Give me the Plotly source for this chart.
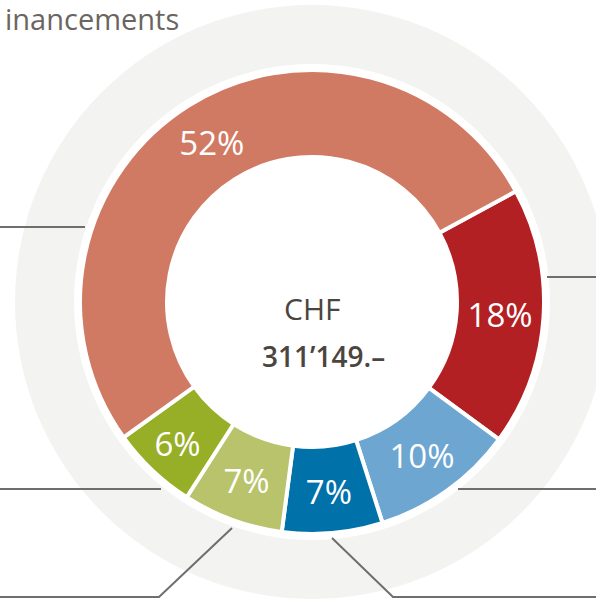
import plotly.graph_objects as go

# ---- data ----
categories = ["Catégorie A", "Catégorie B", "Catégorie C", "Catégorie D", "Catégorie E", "Catégorie F"]
shares = [18, 10, 7, 7, 6, 52]
colors = ["#B22024", "#6CA6D1", "#0071A9", "#B8C36B", "#97AE27", "#D17A63"]
total_label = ["CHF", "311’149.–"]
title_text = "inancements"

W, H = 596, 600

def px(x):
    return x / W

def py(y):
    return 1 - y / H

cx, cy, r_out, r_hole = 312, 302, 232, 145
r_grey_out, r_grey_in = 297, 238

fig = go.Figure()
fig.add_trace(go.Pie(
    labels=categories,
    values=shares,
    sort=False,
    direction="clockwise",
    rotation=61.5,
    hole=r_hole / r_out,
    marker=dict(colors=colors, line=dict(color="white", width=4)),
    texttemplate="%{value}%",
    textposition="inside",
    insidetextorientation="horizontal",
    textfont=dict(family="Open Sans", size=33, color="white"),
    domain=dict(x=[px(cx - r_out), px(cx + r_out)], y=[py(cy + r_out), py(cy - r_out)]),
    showlegend=False,
    hoverinfo="label+percent",
))

shapes = [
    dict(type="circle", xref="paper", yref="paper", layer="below",
         x0=px(cx - r_grey_out), x1=px(cx + r_grey_out), y0=py(cy + r_grey_out), y1=py(cy - r_grey_out),
         fillcolor="#F3F3F2", line=dict(width=0)),
    dict(type="circle", xref="paper", yref="paper", layer="below",
         x0=px(cx - r_grey_in), x1=px(cx + r_grey_in), y0=py(cy + r_grey_in), y1=py(cy - r_grey_in),
         fillcolor="white", line=dict(width=0)),
]

leader_paths = [
    [(0, 227), (85, 227)],
    [(547, 277), (596, 277)],
    [(0, 489), (161, 489)],
    [(0, 597), (159, 597), (232, 528)],
    [(458, 489), (596, 489)],
    [(332, 538), (393, 597), (596, 597)],
]
for pts in leader_paths:
    path = "M " + " L ".join(f"{px(x):.5f},{py(y):.5f}" for x, y in pts)
    shapes.append(dict(type="path", xref="paper", yref="paper", path=path,
                       line=dict(color="#6E6E6E", width=2), layer="above"))

annotations = [
    dict(text=total_label[0], x=px(312), y=py(308), xref="paper", yref="paper", showarrow=False,
         font=dict(family="Open Sans", size=30, color="#4B4540"), xanchor="center", yanchor="middle"),
    dict(text=total_label[1], x=px(323), y=py(356), xref="paper", yref="paper", showarrow=False,
         font=dict(family="Open Sans", size=28, color="#4B4540", weight=600), xanchor="center", yanchor="middle"),
    dict(text=title_text, x=px(3), y=py(19), xref="paper", yref="paper", showarrow=False,
         font=dict(family="Open Sans", size=29, color="#6B6560"), xanchor="left", yanchor="middle"),
]

fig.update_layout(
    width=W, height=H,
    margin=dict(l=0, r=0, t=0, b=0),
    paper_bgcolor="white",
    plot_bgcolor="white",
    shapes=shapes,
    annotations=annotations,
)

fig.write_html("out.html", config={"displayModeBar": False},
               post_script="document.body.style.margin='0';document.body.style.overflow='hidden';")
